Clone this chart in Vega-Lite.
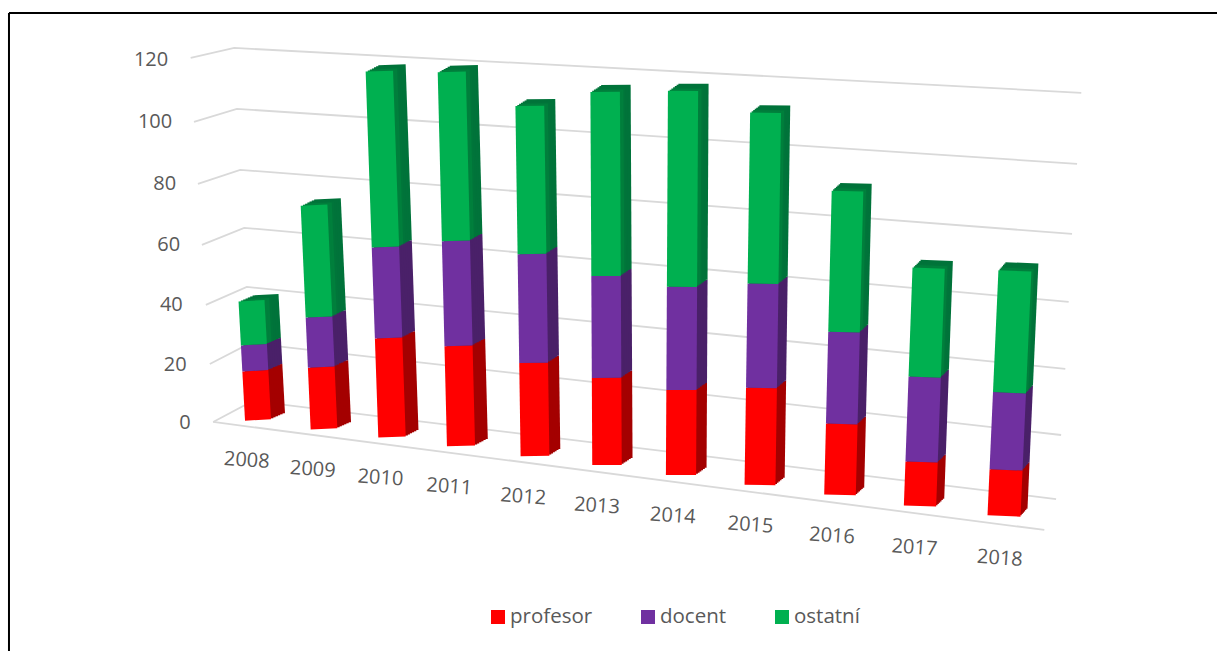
{
"$schema":"https://vega.github.io/schema/vega-lite/v6.json",
"autosize":"none","padding":0,"width":1217,"height":651,
"background":"white",
"config":{"view":{"stroke":null},"font":"Open Sans"},
"datasets":{
"bars":[
{"year":2008,"role":"profesor","rank":1,"value":16.2},{"year":2008,"role":"docent","rank":2,"value":8.6},{"year":2008,"role":"ostatní","rank":3,"value":14.5},
{"year":2009,"role":"profesor","rank":1,"value":20.4},{"year":2009,"role":"docent","rank":2,"value":16.5},{"year":2009,"role":"ostatní","rank":3,"value":36.9},
{"year":2010,"role":"profesor","rank":1,"value":32.6},{"year":2010,"role":"docent","rank":2,"value":30},{"year":2010,"role":"ostatní","rank":3,"value":58},
{"year":2011,"role":"profesor","rank":1,"value":33},{"year":2011,"role":"docent","rank":2,"value":34.6},{"year":2011,"role":"ostatní","rank":3,"value":55.7},
{"year":2012,"role":"profesor","rank":1,"value":30.7},{"year":2012,"role":"docent","rank":2,"value":35.9},{"year":2012,"role":"ostatní","rank":3,"value":48.8},
{"year":2013,"role":"profesor","rank":1,"value":28.7},{"year":2013,"role":"docent","rank":2,"value":33.6},{"year":2013,"role":"ostatní","rank":3,"value":60.7},
{"year":2014,"role":"profesor","rank":1,"value":28},{"year":2014,"role":"docent","rank":2,"value":34},{"year":2014,"role":"ostatní","rank":3,"value":64.6},
{"year":2015,"role":"profesor","rank":1,"value":32},{"year":2015,"role":"docent","rank":2,"value":34.3},{"year":2015,"role":"ostatní","rank":3,"value":56.4},
{"year":2016,"role":"profesor","rank":1,"value":23.4},{"year":2016,"role":"docent","rank":2,"value":30.3},{"year":2016,"role":"ostatní","rank":3,"value":46.5},
{"year":2017,"role":"profesor","rank":1,"value":14.5},{"year":2017,"role":"docent","rank":2,"value":28},{"year":2017,"role":"ostatní","rank":3,"value":35.9},
{"year":2018,"role":"profesor","rank":1,"value":15.2},{"year":2018,"role":"docent","rank":2,"value":25.4},{"year":2018,"role":"ostatní","rank":3,"value":40.2}
],
"grid":[
{"line":"120","pos":2006.98,"level":120},{"line":"120","pos":2007.64,"level":123.3},{"line":"120","pos":2018.92,"level":108.5},
{"line":"100","pos":2007.03,"level":98.9},{"line":"100","pos":2007.68,"level":103.2},{"line":"100","pos":2018.87,"level":85.1},
{"line":"80","pos":2007.09,"level":78.5},{"line":"80","pos":2007.73,"level":83.1},{"line":"80","pos":2018.81,"level":62},
{"line":"60","pos":2007.15,"level":58.4},{"line":"60","pos":2007.79,"level":64},{"line":"60","pos":2018.77,"level":39.6},
{"line":"40","pos":2007.21,"level":38.6},{"line":"40","pos":2007.83,"level":44.5},{"line":"40","pos":2018.73,"level":17.5},
{"line":"20","pos":2007.27,"level":19.1},{"line":"20","pos":2007.88,"level":26},{"line":"20","pos":2018.68,"level":-4.3},
{"line":"0","pos":2007.32,"level":0},{"line":"0","pos":2007.92,"level":6.9},{"line":"0","pos":2018.62,"level":-25.4},
{"line":"floor","pos":2007.32,"level":0},{"line":"floor","pos":2018.48,"level":-35.6}
],
"ticks":[{"tick":120,"pos":2006.64,"at":119.4},{"tick":100,"pos":2006.7,"at":98.9},{"tick":80,"pos":2006.76,"at":78.5},{"tick":60,"pos":2006.82,"at":58.4},{"tick":40,"pos":2006.86,"at":38.6},{"tick":20,"pos":2006.92,"at":18.8},{"tick":0,"pos":2006.98,"at":-0.3}],
"years":[{"year":2008,"pos":2007.83,"at":-12.7},{"year":2009,"pos":2008.83,"at":-15.7},{"year":2010,"pos":2009.83,"at":-18.5},{"year":2011,"pos":2010.83,"at":-21.4},{"year":2012,"pos":2011.84,"at":-24.7},{"year":2013,"pos":2012.86,"at":-27.7},{"year":2014,"pos":2013.89,"at":-31},{"year":2015,"pos":2014.88,"at":-34},{"year":2016,"pos":2015.9,"at":-37.6},{"year":2017,"pos":2016.93,"at":-41.5},{"year":2018,"pos":2017.95,"at":-45}]
},
"layer":[
{"data":{"name":"grid"},"mark":{"type":"line","color":"#d9d9d9","strokeWidth":1.8},
 "encoding":{"x":{"field":"pos","type":"quantitative","scale":{"domain":[2008,2009,2010,2011,2012,2013,2014,2015,2016,2017,2018],"range":[258,324,392,461,535,607,681,760,840,920,1004],"nice":false,"zero":false},"axis":null},
 "y":{"field":"level","type":"quantitative","scale":{"domain":[-75.5,139.1],"range":[651,0],"nice":false,"zero":false},"axis":null},
 "detail":{"field":"line"},"order":{"field":"pos"}}},
{"data":{"name":"bars"},"transform":[{"stack":"value","groupby":["year"],"sort":[{"field":"rank","order":"ascending"}],"as":["v0","v1"]},{"fold":["v0","v1"],"as":["edge","yv"]},
 {"calculate":"datum.year+(datum.yv*(datum.year-2013.5)*0.03+(14-0.7*(datum.year-2008)))/[66,66,68,69,74,72,74,79,80,80,84][datum.year-2008]","as":"xp"},
 {"calculate":"datum.yv-([-2,7,15,24,34,43,53,63,73,84,94][datum.year-2008]-(6+0.2*(datum.year-2008)))/3.033","as":"yp"}],
 "mark":{"type":"line","strokeCap":"butt"},
 "encoding":{"x":{"field":"xp","type":"quantitative"},"y":{"field":"yp","type":"quantitative"},
 "strokeWidth":{"field":"year","type":"quantitative","legend":null,"scale":{"domain":[2008,2018],"range":[26,33],"zero":false,"nice":false}},
 "detail":{"field":"year"},"order":{"field":"edge"},
 "color":{"field":"role","type":"nominal","legend":null,"scale":{"domain":["profesor","docent","ostatní"],"range":["#a40000","#4a2069","#00733a"]}}}},
{"data":{"name":"bars"},"transform":[{"stack":"value","groupby":["year"],"sort":[{"field":"rank","order":"ascending"}],"as":["v0","v1"]},{"fold":["v0","v1"],"as":["edge","yv"]},
 {"calculate":"datum.year+(datum.yv*(datum.year-2013.5)*0.03+(14-0.7*(datum.year-2008))*0.83)/[66,66,68,69,74,72,74,79,80,80,84][datum.year-2008]","as":"xp"},
 {"calculate":"datum.yv-([-2,7,15,24,34,43,53,63,73,84,94][datum.year-2008]-(6+0.2*(datum.year-2008))*0.83)/3.033","as":"yp"}],
 "mark":{"type":"line","strokeCap":"butt"},
 "encoding":{"x":{"field":"xp","type":"quantitative"},"y":{"field":"yp","type":"quantitative"},
 "strokeWidth":{"field":"year","type":"quantitative","legend":null,"scale":{"domain":[2008,2018],"range":[26,33],"zero":false,"nice":false}},
 "detail":{"field":"year"},"order":{"field":"edge"},
 "color":{"field":"role","type":"nominal","legend":null,"scale":{"domain":["profesor","docent","ostatní"],"range":["#a40000","#4a2069","#00733a"]}}}},
{"data":{"name":"bars"},"transform":[{"stack":"value","groupby":["year"],"sort":[{"field":"rank","order":"ascending"}],"as":["v0","v1"]},{"fold":["v0","v1"],"as":["edge","yv"]},
 {"calculate":"datum.year+(datum.yv*(datum.year-2013.5)*0.03+(14-0.7*(datum.year-2008))*0.66)/[66,66,68,69,74,72,74,79,80,80,84][datum.year-2008]","as":"xp"},
 {"calculate":"datum.yv-([-2,7,15,24,34,43,53,63,73,84,94][datum.year-2008]-(6+0.2*(datum.year-2008))*0.66)/3.033","as":"yp"}],
 "mark":{"type":"line","strokeCap":"butt"},
 "encoding":{"x":{"field":"xp","type":"quantitative"},"y":{"field":"yp","type":"quantitative"},
 "strokeWidth":{"field":"year","type":"quantitative","legend":null,"scale":{"domain":[2008,2018],"range":[26,33],"zero":false,"nice":false}},
 "detail":{"field":"year"},"order":{"field":"edge"},
 "color":{"field":"role","type":"nominal","legend":null,"scale":{"domain":["profesor","docent","ostatní"],"range":["#a40000","#4a2069","#00733a"]}}}},
{"data":{"name":"bars"},"transform":[{"stack":"value","groupby":["year"],"sort":[{"field":"rank","order":"ascending"}],"as":["v0","v1"]},{"fold":["v0","v1"],"as":["edge","yv"]},
 {"calculate":"datum.year+(datum.yv*(datum.year-2013.5)*0.03+(14-0.7*(datum.year-2008))*0.5)/[66,66,68,69,74,72,74,79,80,80,84][datum.year-2008]","as":"xp"},
 {"calculate":"datum.yv-([-2,7,15,24,34,43,53,63,73,84,94][datum.year-2008]-(6+0.2*(datum.year-2008))*0.5)/3.033","as":"yp"}],
 "mark":{"type":"line","strokeCap":"butt"},
 "encoding":{"x":{"field":"xp","type":"quantitative"},"y":{"field":"yp","type":"quantitative"},
 "strokeWidth":{"field":"year","type":"quantitative","legend":null,"scale":{"domain":[2008,2018],"range":[26,33],"zero":false,"nice":false}},
 "detail":{"field":"year"},"order":{"field":"edge"},
 "color":{"field":"role","type":"nominal","legend":null,"scale":{"domain":["profesor","docent","ostatní"],"range":["#a40000","#4a2069","#00753a"]}}}},
{"data":{"name":"bars"},"transform":[{"stack":"value","groupby":["year"],"sort":[{"field":"rank","order":"ascending"}],"as":["v0","v1"]},{"fold":["v0","v1"],"as":["edge","yv"]},
 {"calculate":"datum.year+(datum.yv*(datum.year-2013.5)*0.03+(14-0.7*(datum.year-2008))*0.33)/[66,66,68,69,74,72,74,79,80,80,84][datum.year-2008]","as":"xp"},
 {"calculate":"datum.yv-([-2,7,15,24,34,43,53,63,73,84,94][datum.year-2008]-(6+0.2*(datum.year-2008))*0.33)/3.033","as":"yp"}],
 "mark":{"type":"line","strokeCap":"butt"},
 "encoding":{"x":{"field":"xp","type":"quantitative"},"y":{"field":"yp","type":"quantitative"},
 "strokeWidth":{"field":"year","type":"quantitative","legend":null,"scale":{"domain":[2008,2018],"range":[26,33],"zero":false,"nice":false}},
 "detail":{"field":"year"},"order":{"field":"edge"},
 "color":{"field":"role","type":"nominal","legend":null,"scale":{"domain":["profesor","docent","ostatní"],"range":["#a40000","#4a2069","#007f3c"]}}}},
{"data":{"name":"bars"},"transform":[{"stack":"value","groupby":["year"],"sort":[{"field":"rank","order":"ascending"}],"as":["v0","v1"]},{"fold":["v0","v1"],"as":["edge","yv"]},
 {"calculate":"datum.year+(datum.yv*(datum.year-2013.5)*0.03+(14-0.7*(datum.year-2008))*0.17)/[66,66,68,69,74,72,74,79,80,80,84][datum.year-2008]","as":"xp"},
 {"calculate":"datum.yv-([-2,7,15,24,34,43,53,63,73,84,94][datum.year-2008]-(6+0.2*(datum.year-2008))*0.17)/3.033","as":"yp"}],
 "mark":{"type":"line","strokeCap":"butt"},
 "encoding":{"x":{"field":"xp","type":"quantitative"},"y":{"field":"yp","type":"quantitative"},
 "strokeWidth":{"field":"year","type":"quantitative","legend":null,"scale":{"domain":[2008,2018],"range":[26,33],"zero":false,"nice":false}},
 "detail":{"field":"year"},"order":{"field":"edge"},
 "color":{"field":"role","type":"nominal","legend":null,"scale":{"domain":["profesor","docent","ostatní"],"range":["#a40000","#4a2069","#007f3c"]}}}},
{"data":{"name":"bars"},"transform":[{"stack":"value","groupby":["year"],"sort":[{"field":"rank","order":"ascending"}],"as":["v0","v1"]},{"fold":["v0","v1"],"as":["edge","yv"]},
 {"calculate":"datum.year+(datum.yv*(datum.year-2013.5)*0.03)/[66,66,68,69,74,72,74,79,80,80,84][datum.year-2008]","as":"xp"},
 {"calculate":"datum.yv-[-2,7,15,24,34,43,53,63,73,84,94][datum.year-2008]/3.033","as":"yp"}],
 "mark":{"type":"line","strokeCap":"butt"},
 "encoding":{"x":{"field":"xp","type":"quantitative"},"y":{"field":"yp","type":"quantitative"},
 "strokeWidth":{"field":"year","type":"quantitative","legend":null,"scale":{"domain":[2008,2018],"range":[26,33],"zero":false,"nice":false}},
 "detail":{"field":"year"},"order":{"field":"edge"},
 "color":{"field":"role","type":"nominal","scale":{"domain":["profesor","docent","ostatní"],"range":["#ff0000","#7030a0","#00b050"]},
  "legend":{"title":null,"orient":"none","legendX":484,"legendY":603,"direction":"horizontal","symbolType":"stroke","symbolSize":196,"symbolStrokeWidth":14,"labelFontSize":20.5,"labelColor":"#595959","labelFont":"Open Sans","labelOffset":-2,"columnPadding":20}}}},
{"data":{"name":"years"},"mark":{"type":"text","fontSize":20,"font":"Open Sans","color":"#595959","angle":4,"align":"center","baseline":"middle"},
 "encoding":{"x":{"field":"pos","type":"quantitative"},"y":{"field":"at","type":"quantitative"},"text":{"field":"year","type":"nominal"}}},
{"data":{"name":"ticks"},"mark":{"type":"text","fontSize":20,"font":"Open Sans","color":"#595959","align":"right","baseline":"middle"},
 "encoding":{"x":{"field":"pos","type":"quantitative"},"y":{"field":"at","type":"quantitative"},"text":{"field":"tick","type":"nominal"}}},
{"data":{"values":[{"fx":2004.227,"fx2":2022,"fy":134.85}]},"mark":{"type":"rule","color":"black","strokeWidth":2},
 "encoding":{"x":{"field":"fx","type":"quantitative"},"x2":{"field":"fx2"},"y":{"field":"fy","type":"quantitative"}}},
{"data":{"values":[{"fx":2004.227,"fy":134.85,"fy2":-76}]},"mark":{"type":"rule","color":"black","strokeWidth":2},
 "encoding":{"x":{"field":"fx","type":"quantitative"},"y":{"field":"fy","type":"quantitative"},"y2":{"field":"fy2"}}}
],
"resolve":{"scale":{"color":"independent"}}
}
